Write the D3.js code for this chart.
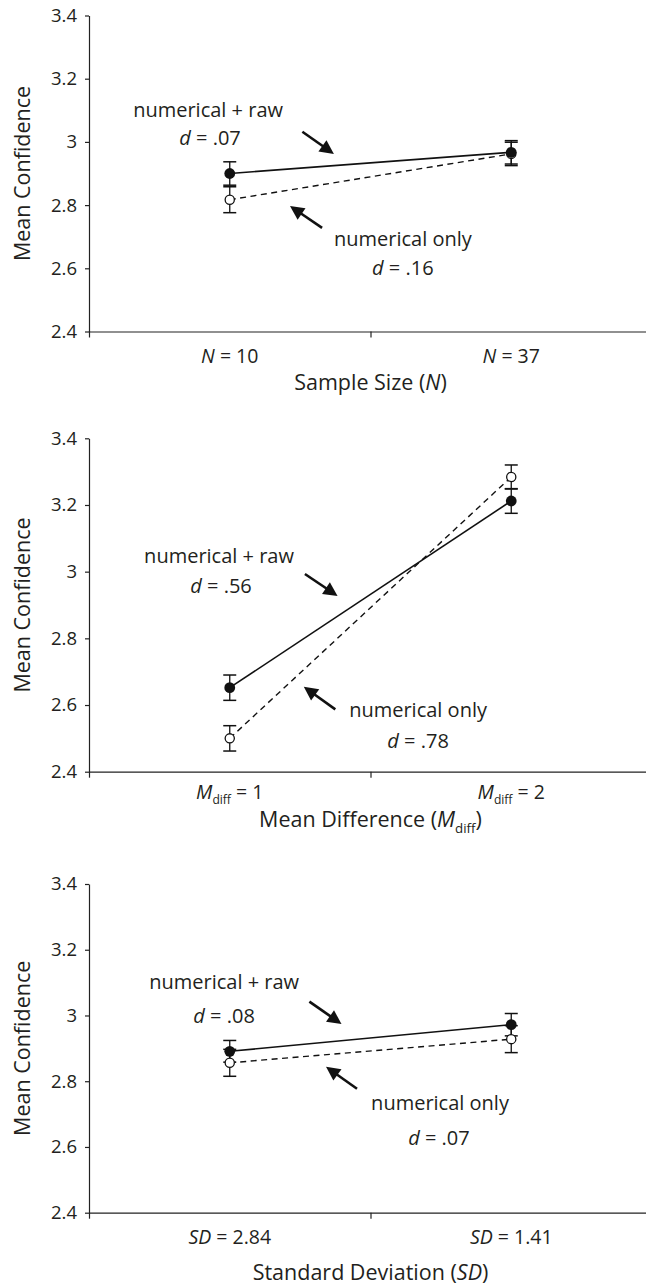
<!DOCTYPE html>
<html><head><meta charset="utf-8">
<script src="https://cdn.jsdelivr.net/npm/d3@7"></script>
<style>
body{margin:0;background:#fff}
text{font-family:"Open Sans",sans-serif;fill:#231f20}
</style>
</head><body>
<svg id="c" width="646" height="1285"></svg>
<script>
// ---------- data ----------
const yTicks = [2.4, 2.6, 2.8, 3, 3.2, 3.4];
const yTickLabels = ["2.4", "2.6", "2.8", "3", "3.2", "3.4"];
const seriesNames = ["numerical + raw", "numerical only"];
const yTitle = "Mean Confidence";

const sizeLevels = ["10", "37"];
const sizeRaw = [2.900, 2.967];
const sizeRawErr = [0.037, 0.037];
const sizeNum = [2.817, 2.962];
const sizeNumErr = [0.041, 0.037];
const sizeD = [".07", ".16"];

const diffLevels = ["1", "2"];
const diffRaw = [2.652, 3.212];
const diffRawErr = [0.038, 0.037];
const diffNum = [2.500, 3.284];
const diffNumErr = [0.038, 0.036];
const diffD = [".56", ".78"];

const sdLevels = ["2.84", "1.41"];
const sdRaw = [2.891, 2.972];
const sdRawErr = [0.033, 0.034];
const sdNum = [2.856, 2.928];
const sdNumErr = [0.041, 0.041];
const sdD = [".08", ".07"];

// ---------- layout ----------
const svg = d3.select("#c");
const X0 = 89, X1 = 652;
const FONT_YT = 18.5, FONT_XT = 19.5, FONT_TITLE = 21.5, FONT_ANN = 20;

const panels = [
  { levels: sizeLevels, raw: sizeRaw, rawErr: sizeRawErr, num: sizeNum, numErr: sizeNumErr, d: sizeD,
    sym: "N", sub: null, titlePre: "Sample Size (", titleSym: "N", titleSub: null,
    top: 15.5, bottom: 331.5, tickOff: 31.5, titleOff: 58.5,
    ann: [[0.423, 3.078], [0.430, 2.990], [1.115, 2.672], [1.115, 2.579]],
    arrows: [[0.758, 3.032, 0.870, 2.962], [0.828, 2.728, 0.714, 2.797]] },
  { levels: diffLevels, raw: diffRaw, rawErr: diffRawErr, num: diffNum, numErr: diffNumErr, d: diffD,
    sym: "M", sub: "diff", titlePre: "Mean Difference (", titleSym: "M", titleSub: "diff",
    top: 438.3, bottom: 771.7, tickOff: 27.3, titleOff: 55.3,
    ann: [[0.462, 3.025], [0.469, 2.935], [1.169, 2.563], [1.169, 2.472]],
    arrows: [[0.767, 2.993, 0.883, 2.927], [0.875, 2.587, 0.763, 2.655]] },
  { levels: sdLevels, raw: sdRaw, rawErr: sdRawErr, num: sdNum, numErr: sdNumErr, d: sdD,
    sym: "SD", sub: null, titlePre: "Standard Deviation (", titleSym: "SD", titleSub: null,
    top: 884, bottom: 1212.7, tickOff: 31.3, titleOff: 67.3,
    ann: [[0.480, 3.081], [0.480, 2.976], [1.247, 2.712], [1.243, 2.606]],
    arrows: [[0.783, 3.042, 0.897, 2.974], [0.952, 2.777, 0.842, 2.844]] }
];

function symTspans(t, sym, sub, after, size) {
  t.append("tspan").attr("font-style", "italic").text(sym);
  if (sub) {
    t.append("tspan").attr("font-size", size * 0.62).attr("dy", size * 0.28).text(sub);
    t.append("tspan").attr("dy", -size * 0.28).text(after);
  } else {
    t.append("tspan").text(after);
  }
}

function arrow(g, x1, y1, x2, y2) {
  const dx = x2 - x1, dy = y2 - y1, L = Math.hypot(dx, dy);
  const ux = dx / L, uy = dy / L, hl = 14, hw = 7;
  const bx = x2 - ux * hl, by = y2 - uy * hl;
  g.append("line").attr("x1", x1).attr("y1", y1).attr("x2", bx + ux * 2).attr("y2", by + uy * 2)
    .attr("stroke", "#111").attr("stroke-width", 2.6);
  g.append("path")
    .attr("d", `M${x2},${y2}L${bx - uy * hw},${by + ux * hw}L${bx + uy * hw},${by - ux * hw}Z`)
    .attr("fill", "#111");
}

panels.forEach(p => {
  const g = svg.append("g");
  const y = d3.scaleLinear().domain([2.4, 3.4]).range([p.bottom, p.top]);
  const xb = d3.scaleBand().domain(p.levels).range([X0, X1]);
  const xc = d3.scaleLinear().domain([0, 2]).range([X0, X1]);
  const cx = l => xb(l) + xb.bandwidth() / 2;

  // y axis
  const ya = g.append("g").attr("transform", `translate(${X0},0)`)
    .call(d3.axisLeft(y).tickValues(yTicks).tickFormat((d, i) => yTickLabels[i])
      .tickSize(4).tickSizeOuter(0).tickPadding(8));
  ya.selectAll("text").attr("font-size", FONT_YT).attr("font-family", null).attr("fill", "#231f20");
  ya.selectAll("line,path").attr("stroke", "#222").attr("stroke-width", 1.2);
  ya.attr("font-family", null);

  // x axis
  const xa = g.append("g").attr("transform", `translate(0,${p.bottom})`)
    .call(d3.axisBottom(xc).tickValues([0, 1, 2]).tickFormat("").tickSize(6).tickSizeOuter(0));
  xa.selectAll("line,path").attr("stroke", "#222").attr("stroke-width", 1.2);

  // x tick labels
  p.levels.forEach(l => {
    const t = g.append("text").attr("x", cx(l)).attr("y", p.bottom + p.tickOff)
      .attr("text-anchor", "middle").attr("font-size", FONT_XT);
    symTspans(t, p.sym, p.sub, " = " + l, FONT_XT);
  });
  // x title
  const tt = g.append("text").attr("x", xc(1)).attr("y", p.bottom + p.titleOff)
    .attr("text-anchor", "middle").attr("font-size", FONT_TITLE);
  tt.append("tspan").text(p.titlePre);
  symTspans(tt, p.titleSym, p.titleSub, ")", FONT_TITLE);

  // y title
  g.append("text").attr("transform", `translate(21,${(p.top + p.bottom) / 2}) rotate(-90)`)
    .attr("text-anchor", "middle").attr("dominant-baseline", "central")
    .attr("font-size", FONT_TITLE).text(yTitle);

  // lines
  const line = d3.line().x(d => cx(d[0])).y(d => y(d[1]));
  g.append("path").datum(p.levels.map((l, i) => [l, p.num[i]])).attr("d", line)
    .attr("fill", "none").attr("stroke", "#111").attr("stroke-width", 1.4).attr("stroke-dasharray", "6,4.5");
  g.append("path").datum(p.levels.map((l, i) => [l, p.raw[i]])).attr("d", line)
    .attr("fill", "none").attr("stroke", "#111").attr("stroke-width", 1.6);

  // error bars
  const eb = (vals, errs) => p.levels.forEach((l, i) => {
    const x = cx(l), hi = y(vals[i] + errs[i]), lo = y(vals[i] - errs[i]);
    g.append("line").attr("x1", x).attr("x2", x).attr("y1", hi).attr("y2", lo).attr("stroke", "#111").attr("stroke-width", 1.3);
    [hi, lo].forEach(yy => g.append("line").attr("x1", x - 6.5).attr("x2", x + 6.5).attr("y1", yy).attr("y2", yy)
      .attr("stroke", "#111").attr("stroke-width", 1.5));
  });
  eb(p.num, p.numErr);
  eb(p.raw, p.rawErr);

  // markers
  g.selectAll(".o").data(p.levels).enter().append("circle")
    .attr("cx", l => cx(l)).attr("cy", (l, i) => y(p.num[i])).attr("r", 4.6)
    .attr("fill", "#fff").attr("stroke", "#111").attr("stroke-width", 1.3);
  g.selectAll(".f").data(p.levels).enter().append("circle")
    .attr("cx", l => cx(l)).attr("cy", (l, i) => y(p.raw[i])).attr("r", 5.4)
    .attr("fill", "#111");

  // annotations
  const texts = [seriesNames[0], p.d[0], seriesNames[1], p.d[1]];
  texts.forEach((s, k) => {
    const t = g.append("text").attr("x", xc(p.ann[k][0])).attr("y", y(p.ann[k][1]))
      .attr("text-anchor", "middle").attr("font-size", FONT_ANN);
    if (k % 2 === 1) {
      t.append("tspan").attr("font-style", "italic").text("d");
      t.append("tspan").text(" = " + s);
    } else t.text(s);
  });
  p.arrows.forEach(a => arrow(g, xc(a[0]), y(a[1]), xc(a[2]), y(a[3])));
});
</script>
</body></html>
